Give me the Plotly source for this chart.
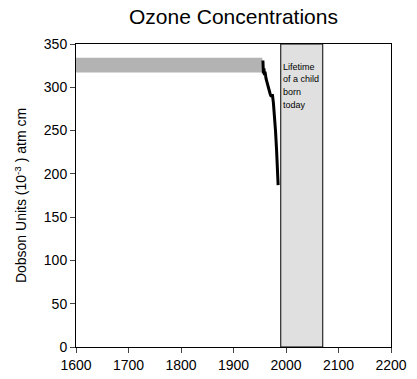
import plotly.graph_objects as go

# Ozone record (Dobson units)
years = [1956, 1957, 1958, 1959, 1960, 1962, 1964, 1966, 1968, 1970, 1972, 1974, 1976, 1978, 1980, 1982, 1984, 1985]
ozone = [331, 316, 322, 314, 318, 310, 305, 300, 296, 292, 289, 292, 282, 268, 250, 228, 200, 187]

# Historical baseline band
band_years = [1600, 1955]
band_low = 317
band_high = 334

# Lifetime of a child born today
life_start = 1990
life_end = 2070
life_lines = ["Lifetime", "of a child", "born", "today"]
life_line_y = [324, 309, 294, 279]

x_ticks = [1600, 1700, 1800, 1900, 2000, 2100, 2200]
y_ticks = [0, 50, 100, 150, 200, 250, 300, 350]

fig = go.Figure()

fig.add_shape(type="rect", x0=band_years[0], x1=band_years[1], y0=band_low, y1=band_high,
              fillcolor="#b3b3b3", line=dict(width=0), layer="below")
fig.add_shape(type="rect", x0=life_start, x1=life_end, y0=0, y1=350,
              fillcolor="#e0e0e0", line=dict(color="black", width=1), layer="below")

fig.add_trace(go.Scatter(x=years, y=ozone, mode="lines",
                         line=dict(color="black", width=3), showlegend=False))

for txt, yy in zip(life_lines, life_line_y):
    fig.add_annotation(x=life_start, y=yy, xref="x", yref="y", text=txt,
                       showarrow=False, xanchor="left", yanchor="middle", align="left",
                       xshift=0, font=dict(size=9, color="black"))

fig.update_layout(
    width=409, height=371,
    margin=dict(l=68, r=26, t=36, b=32, autoexpand=False),
    paper_bgcolor="white", plot_bgcolor="white",
    font=dict(family="Liberation Sans, Arial, sans-serif", color="black", size=14),
    title=dict(text="Ozone Concentrations", x=0.5, xref="paper", xanchor="center",
               y=0.976, yref="container", yanchor="middle", automargin=False,
               font=dict(size=21, color="black")),
    xaxis=dict(range=[1600, 2200], tickvals=x_ticks, ticks="outside", ticklen=5,
               showline=True, linecolor="black", linewidth=1, mirror=True, automargin=False,
               showgrid=False, zeroline=False, tickfont=dict(size=14)),
    yaxis=dict(range=[0, 350], tickvals=y_ticks, ticks="outside", ticklen=5,
               showline=True, linecolor="black", linewidth=1, mirror=True, automargin=False,
               showgrid=False, zeroline=False, tickfont=dict(size=14),
               title=dict(text="Dobson Units (10<sup>-3</sup> ) atm cm", font=dict(size=14), standoff=13)),
)

fig.write_html("out.html")
